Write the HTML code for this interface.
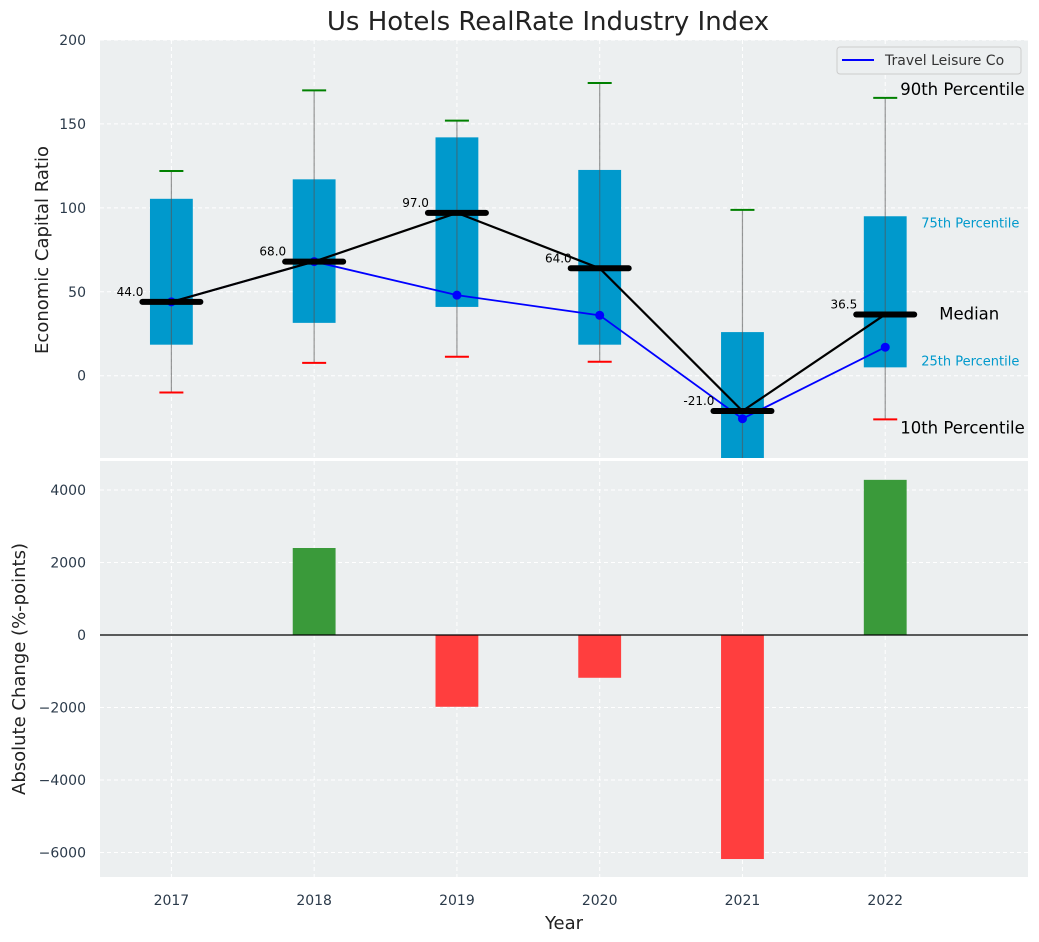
<!DOCTYPE html>
<html><head><meta charset="utf-8"><style>
body{margin:0;background:#fff;}
svg{display:block;font-family:"DejaVu Sans","Liberation Sans",sans-serif;}
</style></head><body>
<svg id="c" width="1039" height="942"></svg>
<script>
const years=[2017,2018,2019,2020,2021,2022];
const p10=[-10,7.7,11.3,8.3,-60,-26];
const p25=[18.5,31.5,41,18.5,-55,5];
const medians=[44,68,97,64,-21,36.5];
const p75=[105.4,117,142,122.6,26,95];
const p90=[122,170,152,174.4,98.8,165.5];
const company=[44,68,48,36,-25.6,17];
const changes=[0,2400,-1980,-1180,-6180,4280];
const topTicks=[0,50,100,150,200];
const botTicks=[-6000,-4000,-2000,0,2000,4000];

const NS="http://www.w3.org/2000/svg";
const svg=document.getElementById('c');
function el(t,a,p){const e=document.createElementNS(NS,t);for(const k in a)e.setAttribute(k,a[k]);(p||svg).appendChild(e);return e;}
const L=100,R=1028;
const X=v=>L+(v-2016.5)/(2023-2016.5)*(R-L);
const T0=40,T1=458,Y=v=>T0+(200-v)/(200-(-49))*(T1-T0);
const B0=461,B1=877,YB=v=>B0+(4800-v)/(4800-(-6676))*(B1-B0);
const bw=X(2017.15)-X(2017);

const bgT=el('rect',{x:L,y:T0,width:R-L,height:T1-T0,fill:'#eceff0'});

const bgB=el('rect',{x:L,y:B0,width:R-L,height:B1-B0,fill:'#eceff0'});

years.forEach(y=>{
  el('line',{x1:X(y),x2:X(y),y1:T0,y2:T1,stroke:'#fff','stroke-dasharray':'4,3'});
  el('line',{x1:X(y),x2:X(y),y1:B0,y2:B1,stroke:'#fff','stroke-dasharray':'4,3'});
  const t=el('text',{x:X(y),y:905,'text-anchor':'middle','font-size':14,fill:'#2b3a4a'});t.textContent=y;
  
});
topTicks.forEach(v=>{
  el('line',{x1:L,x2:R,y1:Y(v),y2:Y(v),stroke:'#fff','stroke-dasharray':'4,3'});
  const t=el('text',{x:86,y:Y(v)+5,'text-anchor':'end','font-size':14,fill:'#2b3a4a'});t.textContent=v;
  
});
botTicks.forEach(v=>{
  el('line',{x1:L,x2:R,y1:YB(v),y2:YB(v),stroke:'#fff','stroke-dasharray':'4,3'});
  const t=el('text',{x:86,y:YB(v)+5,'text-anchor':'end','font-size':14,fill:'#2b3a4a'});t.textContent=(v<0?'\u2212'+(-v):v);
  
});
const defs=el('defs',{});const cp=el('clipPath',{id:'ct'},defs);el('rect',{x:L,y:T0,width:R-L,height:T1-T0},cp);
const g=el('g',{'clip-path':'url(#ct)'});
years.forEach((y,i)=>{
  const x=X(y);
  const b=el('rect',{x:x-bw,y:Y(p75[i]),width:2*bw,height:Y(p25[i])-Y(p75[i]),fill:'#0099cc'},g);
  
  el('line',{x1:x,x2:x,y1:Y(p10[i]),y2:Y(p90[i]),stroke:'#555','stroke-opacity':0.6,'stroke-width':1.2},g);
  const cg=el('line',{x1:x-12,x2:x+12,y1:Y(p90[i]),y2:Y(p90[i]),stroke:'green','stroke-width':2},g);
  
  const cr=el('line',{x1:x-12,x2:x+12,y1:Y(p10[i]),y2:Y(p10[i]),stroke:'red','stroke-width':2},g);
  
});
const cl=el('polyline',{points:years.map((y,i)=>X(y)+','+Y(company[i])).join(' '),fill:'none',stroke:'blue','stroke-width':1.8},g);

years.forEach((y,i)=>{const c=el('circle',{cx:X(y),cy:Y(company[i]),r:4.5,fill:'blue'},g);
  });
const ml=el('polyline',{points:years.map((y,i)=>X(y)+','+Y(medians[i])).join(' '),fill:'none',stroke:'#000','stroke-width':2.2},g);

years.forEach((y,i)=>{
  const m=el('line',{x1:X(y)-29,x2:X(y)+29,y1:Y(medians[i]),y2:Y(medians[i]),stroke:'#000','stroke-width':6,'stroke-linecap':'round'},g);
  
  const t=el('text',{x:X(y)-28,y:Y(medians[i])-6,'text-anchor':'end','font-size':12,fill:'#000'});t.textContent=medians[i].toFixed(1);
  
});
const last=years.length-1,xl=X(years[last]);
[[ '90th Percentile',xl+15,Y(p90[last])-3,16.5,'#000'],['75th Percentile',xl+36,Y(p75[last])+11,13,'#0099cc'],
 ['Median',xl+54,Y(medians[last])+5,16.5,'#000'],['25th Percentile',xl+36,Y(p25[last])-2,13,'#0099cc'],
 ['10th Percentile',xl+15,Y(p10[last])+14,16.5,'#000']].forEach(a=>{
  const t=el('text',{x:a[1],y:a[2],'font-size':a[3],fill:a[4]});t.textContent=a[0];
  
});
const lg=el('g',{});
el('rect',{x:837,y:47,width:184,height:27,rx:3,fill:'#eceff0',stroke:'#ccc'},lg);
el('line',{x1:842,x2:874,y1:60,y2:60,stroke:'blue','stroke-width':2},lg);
const lt=el('text',{x:885,y:65,'font-size':14,fill:'#333'},lg);lt.textContent='Travel Leisure Co';
years.forEach((y,i)=>{
  const v=changes[i];if(v===0)return;
  const r=el('rect',{x:X(y)-bw,y:Math.min(YB(v),YB(0)),width:2*bw,height:Math.abs(YB(v)-YB(0)),fill:v>0?'#3a9a3a':'#ff3e3e'});
  
});
el('line',{x1:L,x2:R,y1:YB(0),y2:YB(0),stroke:'#000','stroke-width':1.2});
const ti=el('text',{x:548,y:30,'text-anchor':'middle','font-size':26,fill:'#222'});ti.textContent='Us Hotels RealRate Industry Index';

const ya=el('text',{x:48,y:250,'text-anchor':'middle','font-size':18,fill:'#222',transform:'rotate(-90 48 250)'});ya.textContent='Economic Capital Ratio';

const yb=el('text',{x:25,y:669,'text-anchor':'middle','font-size':18,fill:'#222',transform:'rotate(-90 25 669)'});yb.textContent='Absolute Change (%-points)';

const xa=el('text',{x:564,y:929,'text-anchor':'middle','font-size':18,fill:'#222'});xa.textContent='Year';

</script>
</body></html>
